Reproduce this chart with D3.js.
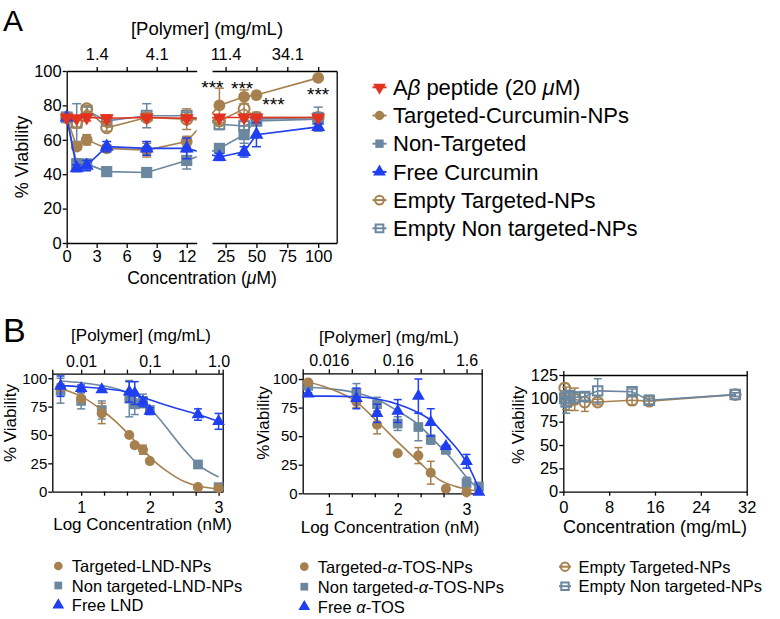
<!DOCTYPE html>
<html><head><meta charset="utf-8">
<script src="https://cdn.jsdelivr.net/npm/d3@7"></script>
<style>
body{margin:0;background:#fff}
svg{font-family:"Liberation Sans",Arial,Helvetica,sans-serif;}
</style></head><body>
<svg id="c" width="780" height="619"></svg>
<script>
// ================= DATA =================
// Panel A
const concA      = [0, 1, 2, 4, 8, 12, 20, 40, 50, 100];
const abetaV     = [73, 72.5, 73, 72.5, 73, 72.5, 73, 73, 73, 73];
const abetaE     = [1, 1, 2, 2, 1, 1, 1, 1, 1, 1];
const targCurV   = [73, 56, 60, 55, 54, 59, 80, 85, 86, 96];
const targCurE   = [1, 2, 3, 2, 4, 3, 10, 4, 2, 1];
const nonTargV   = [73, 46, 46, 41.5, 41, 48, 55, 63, 72, 73];
const nonTargE   = [1, 3, 2, 1, 1, 5, 1, 5, 3, 2];
const freeCurV   = [73, 43.5, 45, 56, 55, 55, 50, 53, 63, 67.5];
const freeCurE   = [1, 2, 3, 3, 4, 6, 2, 3, 7, 2];
const emptyTargV = [73, 70, 78, 67, 73, 72, 71, 78, 73, 73];
const emptyTargE = [1, 3, 2, 2, 2, 6, 2, 3, 3, 2];
const emptyNonV  = [73, 70, 77, 71, 74, 74, 69, 68, 71, 72];
const emptyNonE  = [1, 11, 2, 2, 7, 2, 3, 3, 2, 7];
const ticksALeft  = [0, 3, 6, 9, 12];
const ticksARight = [25, 50, 75, 100];
const polyTickConcA = [3, 9, 25, 75];
const polyLabelsA   = ["1.4", "4.1", "11.4", "34.1"];
const sigConcA  = [20, 40, 50, 100];
const sigLabelA = "***";
const legendA = ["A\u03b2 peptide (20 \u03bcM)", "Targeted-Curcumin-NPs", "Non-Targeted",
                 "Free Curcumin", "Empty Targeted-NPs", "Empty Non targeted-NPs"];

// Panel B1 (LND)
const logB1     = [0.7, 1, 1.3, 1.7, 1.78, 1.9, 2, 2.7, 3];
const targLNDV  = [92, 82, 69, 50, 41, 37, 27, 4, 3];
const targLNDE  = [3, 2, 9, 1, 2, 4, 2, 1, 1];
const nonLNDV   = [89, 80, 72, 82, 77, 80, 72, 24, 4];
const nonLNDE   = [11, 7, 8, 16, 9, 6, 3, 1, 1];
const freeLNDV  = [93, 91, 90, 88, 87, 79, 71, 68, 62];
const freeLNDE  = [9, 3, 1, 9, 10, 4, 3, 5, 7];
const fitTargLNDx = [0.7, 1.0, 1.3, 1.5, 1.7, 1.9, 2.1, 2.3, 2.5, 2.7, 3.0];
const fitTargLNDy = [91, 84, 72, 62, 50, 37, 25, 16, 9, 5, 2.5];
const fitNonLNDx  = [0.7, 1.0, 1.3, 1.6, 1.9, 2.1, 2.3, 2.5, 2.7, 3.0];
const fitNonLNDy  = [97.5, 96, 93.5, 89, 78, 67, 52, 37, 24, 13];
const fitFreeLNDx = [0.7, 1.0, 1.3, 1.7, 2.0, 2.3, 2.7, 3.0];
const fitFreeLNDy = [93.5, 92.5, 91, 87.5, 81, 75, 68, 62];
const polyLabelsB1 = ["0.01", "0.1", "1.0"];
const legendB1 = ["Targeted-LND-NPs", "Non targeted-LND-NPs", "Free LND"];

// Panel B2 (alpha-TOS)
const logB2     = [0.7, 1.4, 1.7, 2, 2.3, 2.48, 2.7, 3, 3.18];
const targTOSV  = [97, 80, 60, 35, 33, 18, 4, 1, null];
const targTOSE  = [1, 5, 8, 1, 7, 10, 1, 1, 0];
const nonTOSV   = [94, 88, 78, 61, 58, 47, 38, 9, 6];
const nonTOSE   = [2, 8, 6, 6, 12, 4, 2, 5, 2];
const freeTOSV  = [87, 83, 70, 72, 85, 62, 41, 28, 1];
const freeTOSE  = [1, 9, 8, 10, 15, 12, 1, 6, 0];
const fitTargTOSx = [0.62, 1.0, 1.4, 1.7, 2.0, 2.3, 2.6, 2.9, 3.2];
const fitTargTOSy = [98.5, 92, 80, 63, 45, 28, 12, 5, 1.5];
const fitNonTOSx  = [0.62, 1.0, 1.4, 1.7, 2.0, 2.3, 2.5, 2.8, 3.0, 3.2];
const fitNonTOSy  = [93, 91.5, 88, 82, 72, 60, 48, 29, 14, 2];
const fitFreeTOSx = [0.62, 1.0, 1.4, 1.7, 2.0, 2.3, 2.5, 2.7, 2.9, 3.0, 3.1, 3.2];
const fitFreeTOSy = [85, 85, 84.5, 82.5, 78, 70.5, 63, 50, 36, 27, 15, 0];
const polyLabelsB2 = ["0.016", "0.16", "1.6"];
const legendB2 = ["Targeted-\u03b1-TOS-NPs", "Non targeted-\u03b1-TOS-NPs", "Free \u03b1-TOS"];

// Panel B3 (empty NPs)
const concB3     = [0.25, 0.5, 1, 2, 3.75, 6, 12, 15, 30];
const emptyTB3V  = [111, 100, 97, 99, 96, 96, 98, 97, 104];
const emptyTB3E  = [5, 12, 10, 12, 10, 3, 5, 3, 2];
const emptyNB3V  = [100, 96, 103, 101, 102, 108, 107, 98, 104];
const emptyNB3E  = [8, 12, 5, 6, 4, 13, 3, 5, 2];
const legendB3 = ["Empty Targeted-NPs", "Empty Non targeted-NPs"];

const logTicks = [1, 4/3, 5/3, 2, 7/3, 8/3, 3];

// ================= DRAW =================
const svg = d3.select("#c");
const COL = {red:"#e3321f", brown:"#a6804f", grey:"#6b87a0", blue:"#1f3ff0"};
const SHAPE = {circle:d3.symbolCircle, square:d3.symbolSquare, tri:d3.symbolTriangle};

function styleAxis(g, fs){
  g.attr("font-family", null).attr("font-size", null);
  g.selectAll("path.domain").attr("stroke","#000").attr("stroke-width",1.3);
  g.selectAll(".tick line").attr("stroke","#000").attr("stroke-width",1.3);
  g.selectAll(".tick text").attr("font-size", fs).attr("fill","#000");
  return g;
}
function richText(sel, str){
  str.split(/([\u03b1\u03b2\u03bc])/).forEach(p=>{
    if(!p) return;
    const t = sel.append("tspan").text(p);
    if(/[\u03b1\u03b2\u03bc]/.test(p)) t.attr("font-style","italic");
  });
  return sel;
}
function marker(g, shape, x, y, color, filled, size, down){
  const p = g.append("path").attr("d", d3.symbol().type(SHAPE[shape]).size(size)())
    .attr("transform", `translate(${x},${y})` + (down ? " rotate(180)" : ""));
  if(filled) p.attr("fill", color).attr("stroke", "none");
  else p.attr("fill", "none").attr("stroke", color).attr("stroke-width", 2);
  return p;
}
function errBar(g, x, y1, y2, color, cap){
  g.append("line").attr("x1",x).attr("x2",x).attr("y1",y1).attr("y2",y2).attr("stroke",color).attr("stroke-width",1.5);
  g.append("line").attr("x1",x-cap).attr("x2",x+cap).attr("y1",y1).attr("y2",y1).attr("stroke",color).attr("stroke-width",1.5);
  g.append("line").attr("x1",x-cap).attr("x2",x+cap).attr("y1",y2).attr("y2",y2).attr("stroke",color).attr("stroke-width",1.5);
}
function sizeOf(shape, big){
  if(shape==="circle") return big?110:80;
  if(shape==="square") return big?125:95;
  return big?85:70;
}

// ---------- Panel A ----------
const xL = d3.scaleLinear().domain([0,13]).range([66.7,196.7]);
const xR = d3.scaleLinear().domain([14,115]).range([212,336.7]);
const yA = d3.scaleLinear().domain([0,100]).range([243,71]);
const sxA = c => c <= 13 ? xL(c) : xR(c);

svg.append("text").attr("x",3).attr("y",31).attr("font-size",30).text("A");

styleAxis(svg.append("g").attr("transform","translate(0,243)")
  .call(d3.axisBottom(xL).tickValues(ticksALeft).tickSize(5).tickSizeOuter(0).tickPadding(2)), 16.5);
styleAxis(svg.append("g").attr("transform","translate(0,243)")
  .call(d3.axisBottom(xR).tickValues(ticksARight).tickSize(5).tickSizeOuter(0).tickPadding(2)), 16.5);
const topFmt = d => { const i = polyTickConcA.indexOf(d); return i>=0 ? polyLabelsA[i] : ""; };
styleAxis(svg.append("g").attr("transform","translate(0,71)")
  .call(d3.axisTop(xL).tickValues([3,6,9,12]).tickFormat(topFmt).tickSize(4).tickSizeOuter(0).tickPadding(7)), 16.5);
styleAxis(svg.append("g").attr("transform","translate(0,71)")
  .call(d3.axisTop(xR).tickValues(ticksARight).tickFormat(topFmt).tickSize(4).tickSizeOuter(0).tickPadding(7)), 16.5);
styleAxis(svg.append("g").attr("transform","translate(66.7,0)")
  .call(d3.axisLeft(yA).tickValues([0,20,40,60,80,100]).tickSize(4).tickSizeOuter(0).tickPadding(1)), 16.5);
styleAxis(svg.append("g").attr("transform","translate(336.7,0)")
  .call(d3.axisRight(yA).tickValues([]).tickSizeOuter(0)), 16);

svg.append("text").attr("x",207).attr("y",35).attr("text-anchor","middle").attr("font-size",18.5).text("[Polymer] (mg/mL)");
richText(svg.append("text").attr("x",202).attr("y",284).attr("text-anchor","middle").attr("font-size",17.5), "Concentration (\u03bcM)");
svg.append("text").attr("transform","translate(28,157) rotate(-90)").attr("text-anchor","middle").attr("font-size",18).text("% Viability");

const clipA = svg.append("defs").append("clipPath").attr("id","clipA");
clipA.append("rect").attr("x",60).attr("y",60).attr("width",136.7).attr("height",190);
clipA.append("rect").attr("x",212).attr("y",60).attr("width",130).attr("height",190);

const seriesA = [
  {v:emptyNonV,  e:emptyNonE,  c:COL.grey,  s:"square", f:false},
  {v:emptyTargV, e:emptyTargE, c:COL.brown, s:"circle", f:false},
  {v:nonTargV,   e:nonTargE,   c:COL.grey,  s:"square", f:true},
  {v:targCurV,   e:targCurE,   c:COL.brown, s:"circle", f:true},
  {v:freeCurV,   e:freeCurE,   c:COL.blue,  s:"tri",    f:true},
  {v:abetaV,     e:abetaE,     c:COL.red,   s:"tri",    f:true, down:true}
];
const lineA = d3.line().x(d=>sxA(d[0])).y(d=>yA(d[1]));
const gA = svg.append("g");
seriesA.forEach(S=>{
  const pts = concA.map((c,i)=>[c,S.v[i]]);
  gA.append("path").attr("d", lineA(pts)).attr("fill","none").attr("stroke",S.c)
    .attr("stroke-width",1.6).attr("clip-path","url(#clipA)");
  pts.forEach((p,i)=>{
    errBar(gA, sxA(p[0]), yA(p[1]-S.e[i]), yA(p[1]+S.e[i]), S.c, 4.5);
  });
  pts.forEach(p=>{
    marker(gA, S.s, sxA(p[0]), yA(p[1]), S.c, S.f, S.f ? sizeOf(S.s,true) : 95, S.down);
  });
});
// significance stars (offset from the Targeted-Curcumin points)
const starOff = [[-7,-22],[-2,-13],[17,5],[0,12]];
sigConcA.forEach((c,i)=>{
  const v = targCurV[concA.indexOf(c)];
  svg.append("text").attr("x", sxA(c)+starOff[i][0]).attr("y", yA(v)+starOff[i][1]+11)
    .attr("text-anchor","middle").attr("font-size",19).attr("letter-spacing",0).text(sigLabelA);
});
// legend A
const legA = [
  {c:COL.red, s:"tri", f:true, down:true},
  {c:COL.brown, s:"circle", f:true},
  {c:COL.grey, s:"square", f:true},
  {c:COL.blue, s:"tri", f:true},
  {c:COL.brown, s:"circle", f:false},
  {c:COL.grey, s:"square", f:false}
];
legendA.forEach((lab,i)=>{
  const cy = 87.3 + i*28.2;
  svg.append("line").attr("x1",372.5).attr("x2",386.5).attr("y1",cy).attr("y2",cy)
    .attr("stroke",legA[i].c).attr("stroke-width",2);
  marker(svg, legA[i].s, 379.5, cy, legA[i].c, legA[i].f, legA[i].f ? 70 : 60, legA[i].down);
  richText(svg.append("text").attr("x",393).attr("y",cy+7.7).attr("font-size",22), lab);
});

// ---------- Panel B helper ----------
function panelB(o){
  const x = d3.scaleLinear().domain(o.xd).range(o.xr);
  const y = d3.scaleLinear().domain(o.yd).range(o.yr);
  const yb = o.yr[0], yt = o.yr[1], xl = o.xr[0], xrr = o.xr[1];
  const fmtB = o.botLabels;
  styleAxis(svg.append("g").attr("transform",`translate(0,${yb})`)
    .call(d3.axisBottom(x).tickValues(o.xticks).tickFormat(fmtB).tickSize(4).tickSizeOuter(0).tickPadding(6)), o.tfs);
  const topAx = d3.axisTop(x).tickSizeOuter(0).tickSize(4).tickPadding(3);
  if(o.topLabels) topAx.tickValues(o.xticks).tickFormat(o.topLabels); else topAx.tickValues([]);
  styleAxis(svg.append("g").attr("transform",`translate(0,${yt})`).call(topAx), o.tfs);
  styleAxis(svg.append("g").attr("transform",`translate(${xl},0)`)
    .call(d3.axisLeft(y).tickValues(o.yticks).tickSize(4).tickSizeOuter(0).tickPadding(1)), o.yfs);
  styleAxis(svg.append("g").attr("transform",`translate(${xrr},0)`)
    .call(d3.axisRight(y).tickValues([]).tickSizeOuter(0)), o.tfs);
  if(o.topTitle) svg.append("text").attr("x",o.topTitle[1]).attr("y",o.topTitle[2]).attr("text-anchor","middle").attr("font-size",17).text(o.topTitle[0]);
  svg.append("text").attr("x",o.xTitle[1]).attr("y",o.xTitle[2]).attr("text-anchor","middle").attr("font-size",o.xfs||17).text(o.xTitle[0]);
  svg.append("text").attr("transform",`translate(${o.yTitle[1]},${o.yTitle[2]}) rotate(-90)`).attr("text-anchor","middle").attr("font-size",o.yTfs||17).text(o.yTitle[0]);
  const g = svg.append("g");
  const ln = d3.line().x(d=>x(d[0])).y(d=>y(d[1]));
  o.series.forEach(S=>{
    if(S.fx){
      g.append("path").attr("d", ln.curve(d3.curveMonotoneX)(S.fx.map((v,i)=>[v,S.fy[i]])))
        .attr("fill","none").attr("stroke",S.c).attr("stroke-width",1.6);
    }
    const pts = S.xs.map((v,i)=>[v,S.v[i],S.e[i]]).filter(p=>p[1]!==null);
    if(S.conn){
      g.append("path").attr("d", d3.line().x(d=>x(d[0])).y(d=>y(d[1]))(pts))
        .attr("fill","none").attr("stroke",S.c).attr("stroke-width",1.6);
    }
    pts.forEach(p=>{ if(p[2]>0) errBar(g, x(p[0]), y(p[1]-p[2]), y(p[1]+p[2]), S.c, 4); });
    pts.forEach(p=> marker(g, S.s, x(p[0]), y(p[1]), S.c, S.f, S.f ? sizeOf(S.s,false) : 90));
  });
  o.legend.forEach((lab,i)=>{
    const S = o.series[o.legOrder[i]];
    const cy = o.legY + i*o.legDy;
    if(!S.f) svg.append("line").attr("x1",o.legX-6).attr("x2",o.legX+6).attr("y1",cy).attr("y2",cy).attr("stroke",S.c).attr("stroke-width",2);
    marker(svg, S.s, o.legX, cy, S.c, S.f, S.f ? 60 : 55);
    richText(svg.append("text").attr("x",o.legX+13.5).attr("y",cy+6).attr("font-size",16.5), lab);
  });
}
const intFmt = d => Math.abs(d-Math.round(d))<1e-6 ? String(Math.round(d)) : "";
const polyFmt = arr => d => { const k = Math.round(d); return Math.abs(d-k)<1e-6 ? arr[k-1] : ""; };

svg.append("text").attr("x",3).attr("y",342).attr("font-size",34).text("B");

panelB({
  xd:[0.58,3.06], xr:[52.3,222.7], yd:[0,104], yr:[491.7,373.7],
  xticks:logTicks, botLabels:intFmt, topLabels:polyFmt(polyLabelsB1),
  yticks:[0,25,50,75,100], tfs:16, yfs:15,
  topTitle:["[Polymer] (mg/mL)",141,341], xTitle:["Log Concentration (nM)",142.5,530], yTitle:["% Viability",16,423],
  series:[
    {xs:logB1, v:nonLNDV,  e:nonLNDE,  c:COL.grey,  s:"square", f:true, fx:fitNonLNDx, fy:fitNonLNDy},
    {xs:logB1, v:targLNDV, e:targLNDE, c:COL.brown, s:"circle", f:true, fx:fitTargLNDx, fy:fitTargLNDy},
    {xs:logB1, v:freeLNDV, e:freeLNDE, c:COL.blue,  s:"tri",    f:true, fx:fitFreeLNDx, fy:fitFreeLNDy}
  ],
  legend:legendB1, legOrder:[1,0,2], legX:58.3, legY:566, legDy:19.5
});

panelB({
  xd:[0.62,3.22], xr:[302.7,481.7], yd:[0,105], yr:[493.3,373.3],
  xticks:logTicks, botLabels:intFmt, topLabels:polyFmt(polyLabelsB2),
  yticks:[0,25,50,75,100], tfs:16, yfs:15,
  topTitle:["[Polymer] (mg/mL)",389,343], xTitle:["Log Concentration (nM)",390,533], yTitle:["%Viability",269,423],
  series:[
    {xs:logB2, v:nonTOSV,  e:nonTOSE,  c:COL.grey,  s:"square", f:true, fx:fitNonTOSx, fy:fitNonTOSy},
    {xs:logB2, v:targTOSV, e:targTOSE, c:COL.brown, s:"circle", f:true, fx:fitTargTOSx, fy:fitTargTOSy},
    {xs:logB2, v:freeTOSV, e:freeTOSE, c:COL.blue,  s:"tri",    f:true, fx:fitFreeTOSx, fy:fitFreeTOSy}
  ],
  legend:legendB2, legOrder:[1,0,2], legX:304.3, legY:566.7, legDy:20
});

panelB({
  xd:[0,32], xr:[563.3,746.7], yd:[0,125], yr:[491.7,375],
  xticks:[0,8,16,24,32], botLabels:d=>String(d), topLabels:null,
  yticks:[0,25,50,75,100,125], tfs:16.5, yfs:16.5, xfs:18,
  topTitle:null, xTitle:["Concentration (mg/mL)",655,533], yTitle:["% Viability",524,425],
  series:[
    {xs:concB3, v:emptyTB3V, e:emptyTB3E, c:COL.brown, s:"circle", f:false, conn:true},
    {xs:concB3, v:emptyNB3V, e:emptyNB3E, c:COL.grey,  s:"square", f:false, conn:true}
  ],
  legend:legendB3, legOrder:[0,1], legX:565, legY:566.7, legDy:19.5
});
</script>
</body></html>
